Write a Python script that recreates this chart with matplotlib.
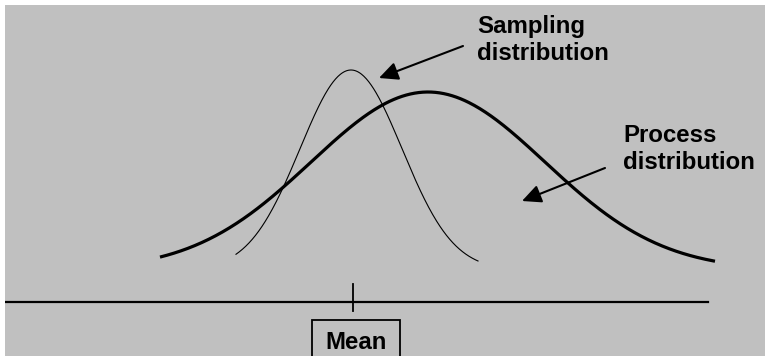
import matplotlib.pyplot as plt
import numpy as np
from matplotlib.patches import Rectangle

# curve parameters (horizontal units ~ pixels, height above bottom of panel)
curve_base = 86
sampling_mean, sampling_sd, sampling_height = 351, 51, 200
sampling_range = (236, 478)
process_mean, process_sd, process_height = 428, 117, 178
process_range = (160, 715)

# number line with the mean tick
axis_y = 54
axis_range = (5, 708)
mean_x = 353

labels = ["Sampling\ndistribution", "Process\ndistribution"]
label_pos = [(477, 323), (623, 214)]
arrow_tails = [(463, 310), (605, 188)]
arrow_tips = [(379, 278), (522, 155)]

plt.rcParams['font.family'] = ['Liberation Sans', 'DejaVu Sans']

fig = plt.figure(figsize=(7.65, 3.56), dpi=100)
ax = fig.add_axes([5 / 765, 0, 760 / 765, 351 / 356])
ax.set_facecolor('#c0c0c0')
ax.set_xlim(5, 765)
ax.set_ylim(0, 351)
ax.set_xticks([])
ax.set_yticks([])
for s in ax.spines.values():
    s.set_visible(False)


def bell(x, mu, sd, h):
    return curve_base + h * np.exp(-(x - mu) ** 2 / (2 * sd ** 2))


xs = np.linspace(*sampling_range, 300)
ax.plot(xs, bell(xs, sampling_mean, sampling_sd, sampling_height), color='black', lw=0.8)
xp = np.linspace(*process_range, 400)
ax.plot(xp, bell(xp, process_mean, process_sd, process_height), color='black', lw=2.3,
        solid_capstyle='butt')

ax.plot(axis_range, [axis_y, axis_y], color='black', lw=1.6)
ax.plot([mean_x, mean_x], [axis_y - 9, axis_y + 18], color='black', lw=1.3)

ax.add_patch(Rectangle((312, -5), 88, 41, fill=False, edgecolor='black', lw=1.3, clip_on=False))
ax.text(356, 7, "Mean", ha='center', va='baseline', fontsize=17.3, fontweight='bold')

for lab, (tx, ty), tail, tip in zip(labels, label_pos, arrow_tails, arrow_tips):
    first, second = lab.split("\n")
    ax.text(tx, ty, first, ha='left', va='baseline', fontsize=17.3, fontweight='bold')
    ax.text(tx, ty - 27, second, ha='left', va='baseline', fontsize=17.3, fontweight='bold')
    ax.annotate("", xy=tip, xytext=tail,
                arrowprops=dict(arrowstyle='-|>,head_length=1.15,head_width=0.55',
                                mutation_scale=10, lw=1.5, color='black',
                                shrinkA=0, shrinkB=0))

fig.savefig("out.png", dpi=100)
